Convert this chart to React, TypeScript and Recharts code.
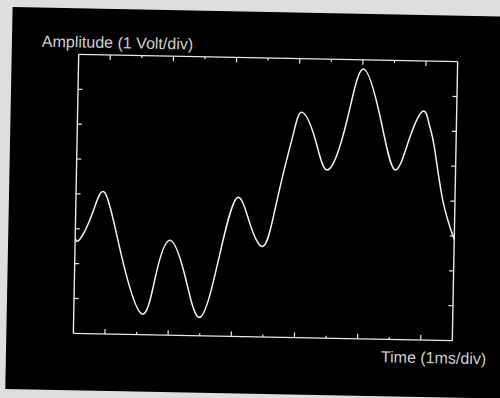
import React from 'react';
import { LineChart, Line, XAxis, YAxis } from 'recharts';

// Time in ms (1 ms per division) and amplitude in volts (1 V per division)
const timeMs = [0, 0.15, 0.53, 0.92, 1.46, 2.14, 2.56, 2.99, 3.51, 4.02, 4.59, 5.09, 5.52, 5.95, 6.26, 6.55, 6.85, 7.11, 7.54, 7.97, 8.54, 9.02, 9.6, 10.07, 10.51, 10.93, 11.14, 11.31, 11.61, 12];
const amplitudeV = [-1.27, -1.3, -0.55, 0.04, -1.69, -3.4, -2.35, -1.28, -2.33, -3.46, -1.64, -0.03, -0.75, -1.4, -0.55, 0.71, 1.87, 2.46, 1.69, 0.83, 2.28, 3.74, 2.3, 0.87, 1.74, 2.56, 2.18, 1.56, 0.03, -1.1];

const xTicks = [1, 2, 3, 4, 5, 6, 7, 8, 9, 10, 11];
const xMajorTicks = [1, 3, 5, 7, 9, 11];
const yTicks = [-3, -2, -1, 0, 1, 2, 3];
const xDomain = [0, 12];
const yDomain = [-4, 4];

const yLabel = 'Amplitude (1 Volt/div)';
const xLabel = 'Time (1ms/div)';

const data = timeMs.map((t, i) => ({ t, v: amplitudeV[i] }));

const FRAME = '#e8e8e8';
const FONT = '"Liberation Sans", Arial, sans-serif';

const MAJOR = 5;
const MINOR = 2.5;

const BottomTick = (props: any) => {
  const { x, y, payload } = props;
  const len = xMajorTicks.includes(payload.value) ? MAJOR : MINOR;
  return <line x1={x} y1={y} x2={x} y2={y - len} stroke={FRAME} strokeWidth={1.2} />;
};
const TopTick = (props: any) => {
  const { x, y, payload } = props;
  const len = xMajorTicks.includes(payload.value) ? MAJOR : MINOR;
  return <line x1={x} y1={y} x2={x} y2={y + len} stroke={FRAME} strokeWidth={1.2} />;
};

export default function App() {
  const axisLine = { stroke: FRAME, strokeWidth: 1.4 };
  const tickLine = { stroke: FRAME, strokeWidth: 1.2 };
  return (
    <div
      style={{
        position: 'absolute',
        left: 0,
        top: 0,
        width: 500,
        height: 398,
        overflow: 'hidden',
        background: '#dedede',
      }}
    >
      <div
        style={{
          position: 'absolute',
          left: 0,
          top: 0,
          width: 500,
          height: 398,
          transform: 'rotate(1.1deg)',
          transformOrigin: '265.5px 197.5px',
        }}
      >
        <div
          style={{
            position: 'absolute',
            left: 9,
            top: 12,
            width: 530,
            height: 382,
            background: '#000',
          }}
        />
        <div style={{ position: 'absolute', left: 0, top: 0 }}>
          <LineChart
            width={500}
            height={398}
            data={data}
            margin={{ top: 58, right: 45, bottom: 61, left: 76 }}
          >
            <XAxis
              xAxisId="bottom"
              dataKey="t"
              type="number"
              domain={xDomain}
              ticks={xTicks}
              allowDataOverflow
              interval={0}
              orientation="bottom"
              height={1}
              mirror
              tick={BottomTick}
              tickSize={0}
              tickMargin={0}
              axisLine={axisLine}
              tickLine={false}
            />
            <XAxis
              xAxisId="top"
              dataKey="t"
              type="number"
              domain={xDomain}
              ticks={xTicks}
              allowDataOverflow
              interval={0}
              orientation="top"
              height={1}
              mirror
              tick={TopTick}
              tickSize={0}
              tickMargin={0}
              axisLine={axisLine}
              tickLine={false}
            />
            <YAxis
              yAxisId="left"
              type="number"
              domain={yDomain}
              ticks={yTicks}
              allowDataOverflow
              interval={0}
              orientation="left"
              width={1}
              mirror
              tick={() => <g />}
              tickSize={4.5}
              axisLine={axisLine}
              tickLine={tickLine}
            />
            <YAxis
              yAxisId="right"
              type="number"
              domain={yDomain}
              ticks={yTicks}
              allowDataOverflow
              interval={0}
              orientation="right"
              width={1}
              mirror
              tick={() => <g />}
              tickSize={4.5}
              axisLine={axisLine}
              tickLine={tickLine}
            />
            <Line
              xAxisId="bottom"
              yAxisId="left"
              dataKey="v"
              type="natural"
              stroke="#f2f2f2"
              strokeWidth={1.5}
              dot={false}
              isAnimationActive={false}
            />
          </LineChart>
        </div>
        <div
          style={{
            position: 'absolute',
            left: 39,
            top: 37.5,
            fontFamily: FONT,
            fontSize: 16,
            lineHeight: '16px',
            color: '#cfcfcf',
            whiteSpace: 'nowrap',
          }}
        >
          {yLabel}
        </div>
        <div
          style={{
            position: 'absolute',
            left: 384,
            top: 347,
            fontFamily: FONT,
            fontSize: 16,
            lineHeight: '16px',
            color: '#cfcfcf',
            whiteSpace: 'nowrap',
          }}
        >
          {xLabel}
        </div>
      </div>
    </div>
  );
}
